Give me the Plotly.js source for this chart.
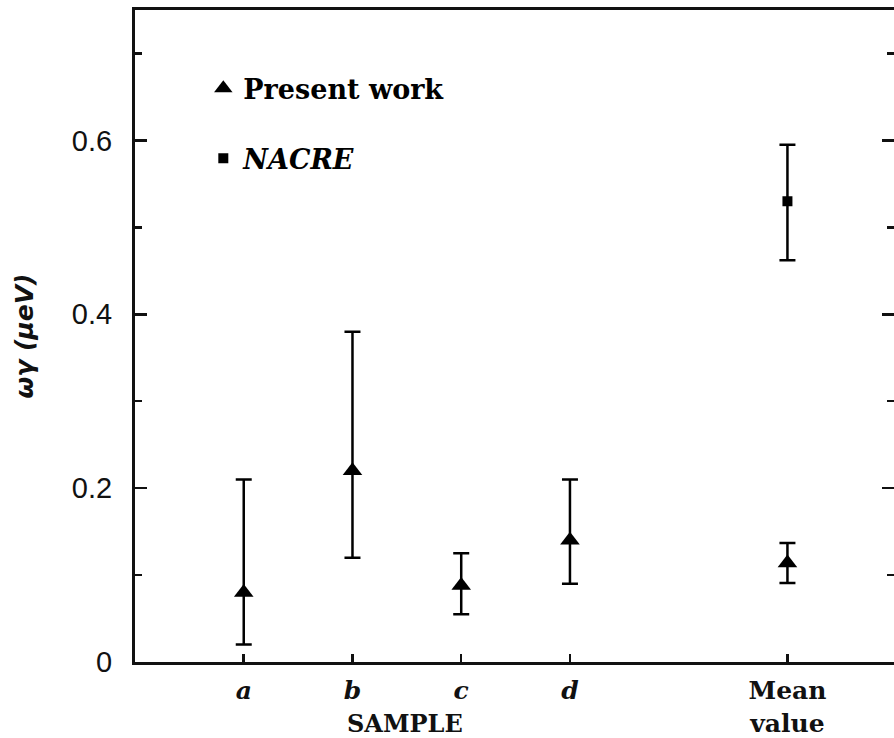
<!DOCTYPE html>
<html><head><meta charset="utf-8">
<script src="https://cdn.plot.ly/plotly-3.0.1.min.js"></script>
<style>body{margin:0;background:#fff}#c{width:894px;height:738px}</style>
</head><body><div id="c"></div>
<script>
const samplePos = [1, 2, 3, 4, 6];
const sampleLabels = ['<i>a</i>', '<i>b</i>', '<i>c</i>', '<i>d</i>', 'Mean<br>value'];
const presentX = [1, 2, 3, 4, 6];
const presentY = [0.08, 0.22, 0.088, 0.14, 0.114];
const presentErrPlus = [0.13, 0.16, 0.037, 0.07, 0.023];
const presentErrMinus = [0.06, 0.10, 0.033, 0.05, 0.023];
const nacreX = [6];
const nacreY = [0.53];
const nacreErrPlus = [0.065];
const nacreErrMinus = [0.068];

const serif = 'DejaVu Serif';
const traces = [
  {x: presentX, y: presentY, type: 'scatter', mode: 'markers', name: 'Present work',
   legendgroup: 'p',
   marker: {symbol: 'triangle-up', size: 17, color: '#000'},
   error_y: {type: 'data', symmetric: false, array: presentErrPlus, arrayminus: presentErrMinus,
             color: '#000', thickness: 2.5, width: 8}},
  {x: nacreX, y: nacreY, type: 'scatter', mode: 'markers', name: '<i>NACRE</i>',
   legendgroup: 'n',
   marker: {symbol: 'square', size: 10, color: '#000'},
   error_y: {type: 'data', symmetric: false, array: nacreErrPlus, arrayminus: nacreErrMinus,
             color: '#000', thickness: 2.5, width: 8}}
];

const layout = {
  width: 894, height: 738,
  margin: {l: 135, r: 0, t: 10, b: 76},
  paper_bgcolor: '#fff', plot_bgcolor: '#fff',
  showlegend: true,
  legend: {x: 0.09, y: 0.917, xanchor: 'left', yanchor: 'top', bgcolor: 'rgba(0,0,0,0)',
           tracegroupgap: 32, itemwidth: 30,
           font: {family: serif, size: 27, color: '#000', weight: 'bold'}},
  xaxis: {range: [0, 6.98], tickvals: samplePos, ticktext: sampleLabels,
          showgrid: false, zeroline: false, showline: true, linecolor: '#111', linewidth: 3,
          mirror: true, ticks: 'inside', ticklen: 8, tickwidth: 2.5, tickcolor: '#111',
          ticklabelstandoff: 4,
          tickfont: {family: serif, size: 25, color: '#111', weight: 'bold'}},
  yaxis: {range: [0, 0.75], tickvals: [0, 0.2, 0.4, 0.6], ticktext: ['0', '0.2', '0.4', '0.6'],
          showgrid: false, zeroline: false, showline: true, linecolor: '#111', linewidth: 3,
          mirror: 'allticks', ticks: 'inside', ticklen: 12, tickwidth: 2.5, tickcolor: '#111',
          ticklabelstandoff: 14,
          minor: {dtick: 0.1, ticks: 'inside', ticklen: 7, tickwidth: 2.5, tickcolor: '#111', showgrid: false},
          tickfont: {family: 'Liberation Sans', size: 29, color: '#111'},
          title: {text: '<i>ωγ (μeV)</i>', standoff: 32,
                  font: {family: 'DejaVu Sans', size: 25, color: '#111', weight: 'bold'}}},
  annotations: [
    {text: 'SAMPLE', xref: 'paper', yref: 'paper', x: (405 - 135) / 759, y: -0.095,
     xanchor: 'center', yanchor: 'middle', showarrow: false,
     font: {family: serif, size: 24, color: '#111', weight: 'bold'}}
  ]
};

Plotly.newPlot('c', traces, layout, {displayModeBar: false, staticPlot: true});
</script></body></html>
